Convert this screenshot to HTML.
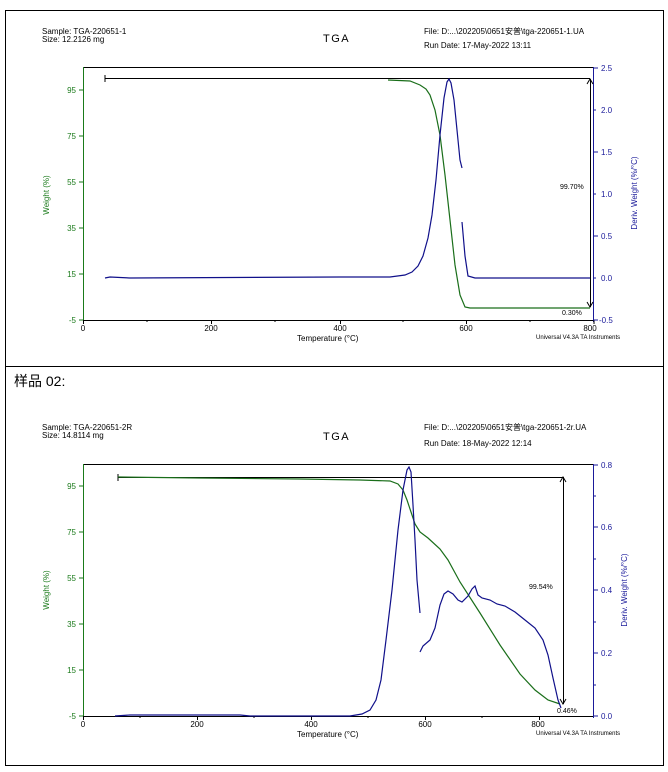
<!DOCTYPE html>
<html><head><meta charset="utf-8"><style>
body{margin:0;background:#fff;}
svg{display:block;font-family:"Liberation Sans","Noto Sans CJK SC",sans-serif;}
</style></head><body>
<svg width="668" height="772" viewBox="0 0 668 772" xmlns="http://www.w3.org/2000/svg">
<rect width="668" height="772" fill="#fff"/>
<g stroke="#000" stroke-width="1" fill="none">
<path d="M5.5 10.5H663.5V765.5H5.5Z"/>
<line x1="5" y1="366.5" x2="663" y2="366.5"/>
</g>
<text x="14" y="386" font-size="14">样品 02:</text>

<!-- Chart 1 -->
<g font-size="8" fill="#000">
<text x="42" y="34">Sample: TGA-220651-1</text>
<text x="42" y="42">Size:  12.2126 mg</text>
<text x="323" y="42" font-size="11" letter-spacing="1.5">TGA</text>
<text x="424" y="34">File: D:...\202205\0651安普\tga-220651-1.UA</text>
<text x="424" y="48">Run Date: 17-May-2022 13:11</text>
<text x="297" y="341" font-size="8">Temperature (°C)</text>
<text x="536" y="339" font-size="6">Universal V4.3A TA Instruments</text>
</g>
<g stroke="#000" stroke-width="1" fill="none">
<path d="M83.5 67.5H593.5"/>
<path d="M83 320.5H594"/>
</g>
<line x1="83.5" y1="67" x2="83.5" y2="320" stroke="#1a7a1a"/>
<line x1="593.5" y1="67" x2="593.5" y2="322" stroke="#1a1a9a"/>
<g stroke="#000">
<path d="M83.5 320v4M211.5 320v4M340.5 320v4M466.5 320v4M594 320v4M147 320v2M275 320v2M403 320v2M530 320v2"/>
</g>
<g font-size="8" text-anchor="middle">
<text x="83" y="331">0</text><text x="211" y="331">200</text><text x="340" y="331">400</text><text x="466" y="331">600</text><text x="590" y="331">800</text>
</g>
<g stroke="#1a7a1a"><path d="M79 90h4M79 136h4M79 182h4M79 228h4M79 274h4M79 320h4"/></g>
<g font-size="8" fill="#1a7a1a" text-anchor="end">
<text x="76" y="93">95</text><text x="76" y="139">75</text><text x="76" y="185">55</text><text x="76" y="231">35</text><text x="76" y="277">15</text><text x="76" y="323">-5</text>
</g>
<text transform="translate(49,195) rotate(-90)" font-size="8" fill="#1a7a1a" text-anchor="middle">Weight (%)</text>
<g stroke="#1a1a9a"><path d="M594 68h4M594 110h2M594 152h4M594 194h2M594 236h4M594 278h2M594 320h4"/></g>
<g font-size="8" fill="#1a1a9a">
<text x="601" y="71">2.5</text><text x="601" y="113">2.0</text><text x="601" y="155">1.5</text><text x="601" y="197">1.0</text><text x="601" y="239">0.5</text><text x="601" y="281">0.0</text><text x="599" y="323">-0.5</text>
</g>
<text transform="translate(637,193) rotate(-90)" font-size="8" fill="#1a1a9a" text-anchor="middle">Deriv. Weight (%/°C)</text>
<g stroke="#000" fill="none">
<path d="M105 78.5H590M105 75v7M590.5 79V307M587 84l3-5 3 5M587 302l3 5 3-5"/>
</g>
<text x="560" y="189" font-size="7">99.70%</text>
<text x="562" y="315" font-size="7">0.30%</text>
<polyline fill="none" stroke="#1a6e1a" stroke-width="1.2" points="388,80 410,81 420,85 426,89 430,95 435,110 440,135 445,175 450,220 455,265 460,295 465,307 470,308 590,308"/>
<polyline fill="none" stroke="#10108a" stroke-width="1.2" points="105,278 110,277 130,278 340,277 390,277 405,275 412,272 418,266 423,256 428,238 432,215 436,180 440,135 444,98 447,82 449,79 451,83 454,100 458,140 460,160 462,168"/>
<polyline fill="none" stroke="#10108a" stroke-width="1.2" points="462,222 465,256 468,276 475,278 590,278"/>

<!-- Chart 2 -->
<g font-size="8" fill="#000">
<text x="42" y="430">Sample: TGA-220651-2R</text>
<text x="42" y="438">Size:  14.8114 mg</text>
<text x="323" y="440" font-size="11" letter-spacing="1.5">TGA</text>
<text x="424" y="430">File: D:...\202205\0651安普\tga-220651-2r.UA</text>
<text x="424" y="446">Run Date: 18-May-2022 12:14</text>
<text x="297" y="737" font-size="8">Temperature (°C)</text>
<text x="536" y="735" font-size="6">Universal V4.3A TA Instruments</text>
</g>
<g stroke="#000" fill="none">
<path d="M83.5 464.5H593.5"/>
<path d="M83 716.5H594"/>
</g>
<line x1="83.5" y1="464" x2="83.5" y2="716" stroke="#1a7a1a"/>
<line x1="593.5" y1="464" x2="593.5" y2="718" stroke="#1a1a9a"/>
<g stroke="#000"><path d="M83.5 716v4M197.5 716v4M311.5 716v4M425.5 716v4M539.5 716v4M140 716v2M254 716v2M368 716v2M482 716v2"/></g>
<g font-size="8" text-anchor="middle">
<text x="83" y="727">0</text><text x="197" y="727">200</text><text x="311" y="727">400</text><text x="425" y="727">600</text><text x="538" y="727">800</text>
</g>
<g stroke="#1a7a1a"><path d="M79 486h4M79 532h4M79 578h4M79 624h4M79 670h4M79 716h4"/></g>
<g font-size="8" fill="#1a7a1a" text-anchor="end">
<text x="76" y="489">95</text><text x="76" y="535">75</text><text x="76" y="581">55</text><text x="76" y="627">35</text><text x="76" y="673">15</text><text x="76" y="719">-5</text>
</g>
<text transform="translate(49,590) rotate(-90)" font-size="8" fill="#1a7a1a" text-anchor="middle">Weight (%)</text>
<g stroke="#1a1a9a"><path d="M594 465h4M594 496h2M594 527h4M594 559h2M594 590h4M594 622h2M594 653h4M594 685h2M594 716h4"/></g>
<g font-size="8" fill="#1a1a9a">
<text x="601" y="468">0.8</text><text x="601" y="530">0.6</text><text x="601" y="593">0.4</text><text x="601" y="656">0.2</text><text x="601" y="719">0.0</text>
</g>
<text transform="translate(627,590) rotate(-90)" font-size="8" fill="#1a1a9a" text-anchor="middle">Deriv. Weight (%/°C)</text>
<g stroke="#000" fill="none">
<path d="M118 477.5H563M118 474v7M563.5 477V704M560 482l3-5 3 5M560 699l3 5 3-5"/>
</g>
<text x="529" y="589" font-size="7">99.54%</text>
<text x="557" y="713" font-size="7">0.46%</text>
<polyline fill="none" stroke="#1a6e1a" stroke-width="1.2" points="118,477 200,478 300,479 360,480 390,481 398,484 403,490 407,500 411,512 415,524 420,532 428,538 440,549 448,560 460,582 480,613 500,645 520,674 535,690 548,700 560,704"/>
<polyline fill="none" stroke="#10108a" stroke-width="1.2" points="115,716 130,715 240,715 250,716 350,716 362,714 370,710 376,700 381,680 386,640 392,590 398,530 403,490 407,470 409,467 411,472 413,505 415,540 417,580 420,613"/>
<polyline fill="none" stroke="#10108a" stroke-width="1.2" points="420,652 423,646 430,640 435,628 440,605 444,594 448,591 453,594 458,600 462,602 468,596 472,589 475,586 478,595 482,598 490,600 497,604 505,606 515,612 525,620 535,628 543,640 548,655 553,678 558,700 561,708"/>
</svg>
</body></html>
